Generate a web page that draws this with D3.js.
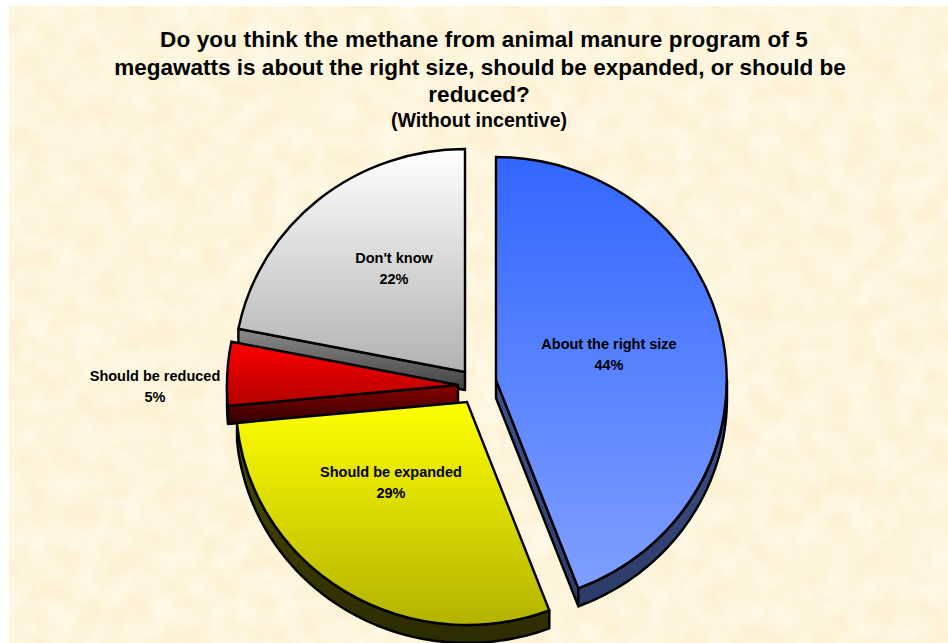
<!DOCTYPE html>
<html><head><meta charset="utf-8">
<script src="https://cdn.jsdelivr.net/npm/d3@7/dist/d3.min.js"></script>
<style>html,body{margin:0;padding:0;background:#fff;overflow:hidden}svg{display:block}text{font-family:"Liberation Sans",Arial,sans-serif;font-weight:bold;fill:#000}</style>
</head><body><script>
const categories=["About the right size","Should be expanded","Should be reduced","Don't know"];
const values=[44.2,29.3,4.6,21.9];
const titleLines=["Do you think the methane from animal manure program of 5","megawatts is about the right size, should be expanded, or should be","reduced?"];
const subtitle="(Without incentive)";
// presentation, per slice
const apex=[[496,380],[467,402],[458,385],[465,372]];
const topCols=["#3366ff","#ffff00","#ff0000","#ffffff"];
const botCols=["#7f9fff","#b3b300","#b30000","#b2b2b2"];
const sideTop=["#3f5390","#4d4d00","#8a0000","#8c8c8c"];
const sideBot=["#2c3a66","#2b2b00","#300000","#404040"];
const labelPos=[[609,349],[391,477],[155,381],[394,263]];
const titleX=[484,480,479];
const titleSpacing=[0.14,0,0];

const W=948,H=643,rx=231,ry=223,depth=18;
const svg=d3.select("body").append("svg").attr("width",W).attr("height",H);
const defs=svg.append("defs");
const f=defs.append("filter").attr("id","paper").attr("x",0).attr("y",0).attr("width","100%").attr("height","100%").attr("color-interpolation-filters","sRGB");
f.append("feTurbulence").attr("type","fractalNoise").attr("baseFrequency","0.04").attr("numOctaves",3).attr("seed",7).attr("result","n");
f.append("feColorMatrix").attr("in","n").attr("type","matrix").attr("values","0 0 0 0 0.998  0.05 0 0 0 0.935  0.14 0 0 0 0.795  0 0 0 0 1");
svg.append("rect").attr("x",9).attr("y",6).attr("width",W-9).attr("height",H-6).attr("fill","#fef4da").attr("filter","url(#paper)");

const pie=d3.pie().sort(null).value(d=>d)(values);
const arc=d3.arc().innerRadius(0).outerRadius(1);
const pt=(i,a)=>[apex[i][0]+rx*Math.sin(a),apex[i][1]-ry*Math.cos(a)];
const line=d3.line();
const SW=2.4;

pie.forEach((d,i)=>{
  const g=defs.append("linearGradient").attr("id","g"+i).attr("x1",0).attr("y1",0).attr("x2",0).attr("y2",1);
  g.append("stop").attr("offset",0).attr("stop-color",topCols[i]);
  g.append("stop").attr("offset",1).attr("stop-color",botCols[i]);
  const s=defs.append("linearGradient").attr("id","s"+i).attr("x1",0).attr("y1",0).attr("x2",0).attr("y2",1);
  s.append("stop").attr("offset",0).attr("stop-color",sideTop[i]);
  s.append("stop").attr("offset",1).attr("stop-color",sideBot[i]);
});
function side(i,pts){
  const dn=pts.map(p=>[p[0],p[1]+depth]).reverse();
  svg.append("path").attr("d",line(pts.concat(dn))+"Z").attr("fill",`url(#s${i})`)
    .attr("stroke","#000").attr("stroke-width",SW).attr("stroke-linejoin","round");
}
const order=[3,2,0,1];
order.forEach(i=>{
  const d=pie[i],a0=d.startAngle,a1=d.endAngle;
  const lo=Math.max(a0,Math.PI/2),hi=Math.min(a1,3*Math.PI/2);
  const wallAngle=(a1>Math.PI/2&&a1<=Math.PI)?a1:(a0>=Math.PI&&a0<2*Math.PI)?a0:null;
  if(wallAngle!==null&&i!==1) side(i,[apex[i],pt(i,wallAngle)]);
  if(hi>lo) side(i,d3.range(lo,hi,0.02).concat(hi).map(a=>pt(i,a)));
  svg.append("path").attr("d",arc(d))
    .attr("transform",`translate(${apex[i]}) scale(${rx},${ry})`)
    .attr("fill",`url(#g${i})`).attr("stroke","#000").attr("stroke-width",SW)
    .attr("vector-effect","non-scaling-stroke").attr("stroke-linejoin","miter");
});

const tt=svg.append("text").attr("text-anchor","middle").attr("font-size",22.5);
titleLines.forEach((t,i)=>tt.append("tspan").attr("x",titleX[i]).attr("y",47+i*27.5).attr("letter-spacing",titleSpacing[i]).text(t));
svg.append("text").attr("x",479).attr("y",127).attr("text-anchor","middle").attr("font-size",19.6).text(subtitle);
const pct=d3.format(".0f");
categories.forEach((c,i)=>{
  const t=svg.append("text").attr("text-anchor","middle").attr("font-size",14.5);
  t.append("tspan").attr("x",labelPos[i][0]).attr("y",labelPos[i][1]).text(c);
  t.append("tspan").attr("x",labelPos[i][0]).attr("y",labelPos[i][1]+21).text(pct(values[i])+"%");
});
</script></body></html>
